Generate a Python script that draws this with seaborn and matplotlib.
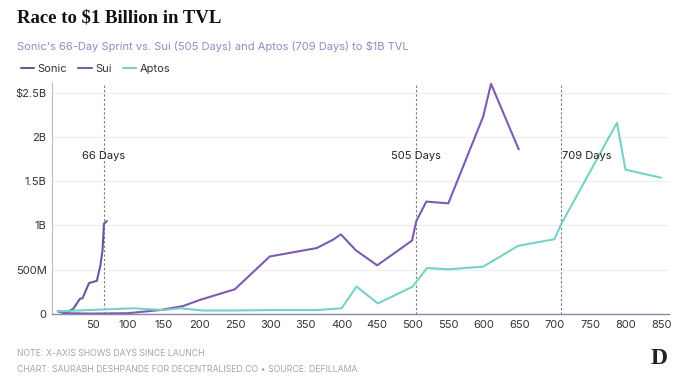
import pandas as pd
import matplotlib.pyplot as plt
import matplotlib.ticker as mticker
from matplotlib.lines import Line2D
import seaborn as sns

# --- data (TVL in billions USD, x = days since launch) ---
sonic_days = [2, 11, 23, 32, 36, 45, 56, 61, 64, 66, 70]
sonic_tvl = [0.035, 0.01, 0.06, 0.17, 0.18, 0.35, 0.375, 0.55, 0.72, 1.02, 1.05]

sui_days = [1, 10, 50, 100, 145, 177, 201, 250, 299, 365, 388, 399, 420, 450,
            499, 505, 519, 550, 599, 610, 649]
sui_tvl = [0.03, 0.01, 0.005, 0.01, 0.045, 0.09, 0.16, 0.28, 0.65, 0.745, 0.84,
           0.9, 0.72, 0.55, 0.83, 1.05, 1.27, 1.25, 2.23, 2.6, 1.86]

aptos_days = [1, 30, 60, 107, 150, 173, 205, 250, 300, 365, 400, 421, 451, 500,
              520, 550, 599, 648, 699, 709, 787, 799, 849]
aptos_tvl = [0.03, 0.04, 0.05, 0.065, 0.045, 0.065, 0.04, 0.04, 0.045, 0.045,
             0.065, 0.31, 0.12, 0.31, 0.52, 0.505, 0.535, 0.77, 0.845, 1.02,
             2.16, 1.63, 1.54]

chains = ['Sonic', 'Sui', 'Aptos']
milestones = [66, 505, 709]
milestone_labels = ['66 Days', '505 Days', '709 Days']
y_ticks = [0, 0.5, 1.0, 1.5, 2.0, 2.5]
y_tick_labels = ['0', '500M', '1B', '1.5B', '2B', '$2.5B']
x_ticks = list(range(50, 851, 50))

colors = {'Sonic': '#5b5f9e', 'Sui': '#7c5cb3', 'Aptos': '#74d2c7'}

df = pd.concat([
    pd.DataFrame({'day': sonic_days, 'tvl': sonic_tvl, 'chain': 'Sonic'}),
    pd.DataFrame({'day': sui_days, 'tvl': sui_tvl, 'chain': 'Sui'}),
    pd.DataFrame({'day': aptos_days, 'tvl': aptos_tvl, 'chain': 'Aptos'}),
])

sns.set_theme(style='white')
plt.rcParams['font.family'] = ['Inter', 'DejaVu Sans']

fig = plt.figure(figsize=(6.9, 3.77), dpi=100)
ax = fig.add_axes([0.0754, 0.167, 0.894, 0.613])

sns.lineplot(data=df, x='day', y='tvl', hue='chain', hue_order=chains,
             palette=colors, estimator=None, sort=False, linewidth=1.5,
             legend=False, ax=ax)

# milestone lines
for d, lab in zip(milestones, milestone_labels):
    ax.axvline(d, color='#777777', lw=0.8, ls=(0, (2, 2)), zorder=1)
    ha = 'left' if d == 709 else 'center'
    ax.text(d if ha == 'center' else d + 1, 1.79, lab, ha=ha, va='center',
            fontsize=8, color='#222222')

ax.set_xlim(-7, 860)
ax.set_ylim(0, 2.61)
ax.set_xticks(x_ticks)
ax.set_yticks(y_ticks)
ax.yaxis.set_major_formatter(mticker.FixedFormatter(y_tick_labels))
ax.tick_params(axis='both', labelsize=8, colors='#333333', length=0, pad=4)
ax.grid(axis='y', color='#eeeeee', lw=0.8)
ax.set_axisbelow(True)
ax.set_xlabel('')
ax.set_ylabel('')
for side in ['top', 'right']:
    ax.spines[side].set_visible(False)
ax.spines['left'].set_color('#bbbbbb')
ax.spines['left'].set_linewidth(0.8)
ax.spines['bottom'].set_color('#8d86aa')
ax.spines['bottom'].set_linewidth(1.0)

# titles
fig.text(17 / 690, 1 - 18 / 377, 'Race to $1 Billion in TVL', fontsize=13.5,
         fontweight='bold', family=['Liberation Serif', 'DejaVu Serif'],
         color='#111111', va='center')
fig.text(17 / 690, 1 - 46 / 377,
         "Sonic's 66-Day Sprint vs. Sui (505 Days) and Aptos (709 Days) to $1B TVL",
         fontsize=8, color='#9a86c4', va='center')

handles = [Line2D([0], [0], color=colors[c], lw=1.5) for c in chains]
fig.legend(handles, chains, loc='center left', bbox_to_anchor=(11 / 690, 1 - 69 / 377),
           ncol=3, frameon=False, fontsize=8, handlelength=1.2,
           handletextpad=0.3, columnspacing=1.0, labelcolor='#333333')

# footer
fig.text(17 / 690, 1 - 354 / 377, 'NOTE: X-AXIS SHOWS DAYS SINCE LAUNCH',
         fontsize=6.3, color='#a5a5a5', va='center')
fig.text(17 / 690, 1 - 369 / 377,
         'CHART: SAURABH DESHPANDE FOR DECENTRALISED.CO \u2022 SOURCE: DEFILLAMA',
         fontsize=6.3, color='#a5a5a5', va='center')
fig.text(659 / 690, 1 - 358 / 377, 'D', fontsize=17, fontweight='bold',
         family=['Liberation Serif', 'DejaVu Serif'], color='#222222',
         ha='center', va='center')

fig.savefig('out.png', dpi=100)
